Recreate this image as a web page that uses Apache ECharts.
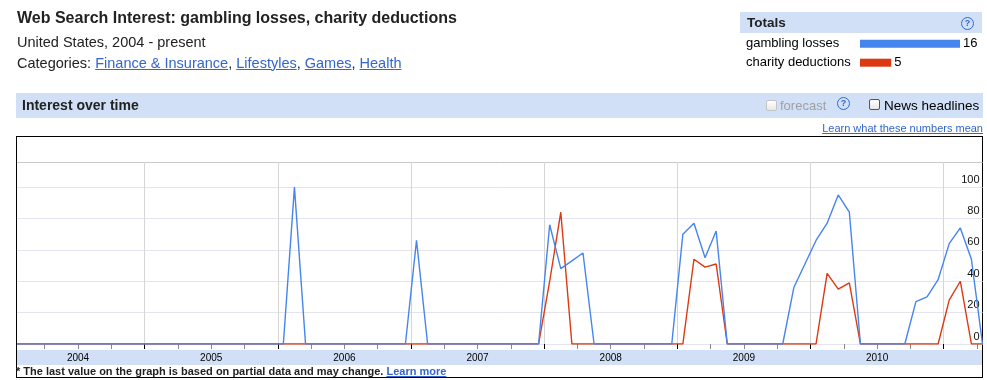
<!DOCTYPE html>
<html><head><meta charset="utf-8">
<script src="https://cdn.jsdelivr.net/npm/echarts@6/dist/echarts.min.js"></script>
<style>
html,body{margin:0;padding:0;background:#fff;width:987px;height:380px;overflow:hidden;font-family:"Liberation Sans",Arial,sans-serif;color:#222;}
.abs{position:absolute;white-space:nowrap;}
.t{position:absolute;white-space:nowrap;z-index:2;}
a{color:#3366cc;text-decoration:underline;}
#chart{position:absolute;left:0;top:0;width:987px;height:380px;z-index:1;}
.help{position:absolute;z-index:2;width:11px;height:11px;border:1px solid #3366cc;border-radius:50%;color:#3366cc;font-size:9px;font-weight:bold;line-height:11px;text-align:center;}
.cb{position:absolute;z-index:2;border-radius:2px;background:linear-gradient(#fff,#e8e8e8);}
</style></head><body>
<div class="abs" style="left:740px;top:12px;width:242px;height:21px;background:#d1e0f6"></div>
<div class="abs" style="left:16px;top:93px;width:967px;height:25px;background:#d1e0f6"></div>
<div class="abs" style="left:16px;top:350px;width:966px;height:15px;background:#d1e0f6"></div>
<div class="abs" style="left:16px;top:136px;width:965px;height:240px;border:1px solid #000"></div>

<div class="t" style="left:17px;top:9.5px;font-size:16px;line-height:16px;font-weight:bold;">Web Search Interest: gambling losses, charity deductions</div>
<div class="t" style="left:17px;top:34.7px;font-size:14.5px;line-height:14.5px;">United States, 2004 - present</div>
<div class="t" style="left:17px;top:55.7px;font-size:14.5px;line-height:14.5px;">Categories: <a>Finance &amp; Insurance</a>, <a>Lifestyles</a>, <a>Games</a>, <a>Health</a></div>

<div class="t" style="left:747px;top:16.3px;font-size:13.5px;line-height:13.5px;font-weight:bold;">Totals</div>
<div class="help" style="left:961px;top:17px;">?</div>

<div class="t" style="left:22px;top:98.2px;font-size:14px;line-height:14px;font-weight:bold;">Interest over time</div>
<div class="cb" style="left:766px;top:100px;width:9px;height:9px;border:1px solid #c4c4c4;"></div>
<div class="t" style="left:780px;top:98.5px;font-size:13px;line-height:13px;color:#a0a0a0;">forecast</div>
<div class="help" style="left:837px;top:97px;">?</div>
<div class="cb" style="left:869px;top:99px;width:9px;height:9px;border:1px solid #555;"></div>
<div class="t" style="left:884px;top:98.5px;font-size:13.5px;line-height:13.5px;color:#000;">News headlines</div>
<div class="t" style="right:4px;top:122.7px;font-size:11px;line-height:11px;"><a>Learn what these numbers mean</a></div>

<div class="t" style="left:16px;top:365.7px;font-size:11px;line-height:11px;font-weight:bold;color:#222;">* The last value on the graph is based on partial data and may change. <a>Learn more</a></div>

<div id="chart"></div>
<script>
// Monthly values, Jan 2004 .. Apr 2011
const years = ['2004', '2005', '2006', '2007', '2008', '2009', '2010'];
const gamblingLosses = [
  0,0,0,0,0,0,0,0,0,0,
  0,0,0,0,0,0,0,0,0,0,
  0,0,0,0,0,100,0,0,0,0,
  0,0,0,0,0,0,66,0,0,0,
  0,0,0,0,0,0,0,0,76,48,
  53,58,0,0,0,0,0,0,0,0,
  70,77,55,72,0,0,0,0,0,0,
  36,51,66,77,95,84,0,0,0,0,
  0,27,30,41,64,74,54,0
];
const charityDeductions = [
  0,0,0,0,0,0,0,0,0,0,
  0,0,0,0,0,0,0,0,0,0,
  0,0,0,0,0,0,0,0,0,0,
  0,0,0,0,0,0,0,0,0,0,
  0,0,0,0,0,0,0,0,40,84,
  0,0,0,0,0,0,0,0,0,0,
  0,54,49,51,0,0,0,0,0,0,
  0,0,0,45,35,39,0,0,0,0,
  0,0,0,0,28,40,0,0
];
const totalsNames = ['gambling losses', 'charity deductions'];
const totalsValues = [16, 5];
const yTickLabels = [0, 20, 40, 60, 80, 100];

const FONT = '"Liberation Sans", Arial, sans-serif';
const BLUE = '#4684ee', RED = '#dc3912';
const nMonths = gamblingLosses.length;
// x coordinate = month index (mid-month); boundaries fall on half indices
const yearBounds = years.slice(1).map((y, i) => (i + 1) * 12 - 0.5).concat([years.length * 12 - 0.5]);
const quarterBounds = [];
for (let m = 3; m < nMonths; m += 3) if (m % 12 !== 0) quarterBounds.push(m - 0.5);
const yearLabelPos = years.map((y, i) => i * 12 + 5.5);

const chart = echarts.init(document.getElementById('chart'), null, {renderer: 'canvas'});
const splitColors = yTickLabels.map(() => '#e4e4f0').concat(['#c8c8c8']);
chart.setOption({
  animation: false,
  backgroundColor: 'transparent',
  textStyle: {fontFamily: FONT},
  grid: [
    {left: 17, right: 4.5, top: 162, bottom: 36},
    {left: 860, top: 34.2, width: 100, height: 38}
  ],
  xAxis: [
    {type: 'value', gridIndex: 0, min: 0, max: nMonths - 1, position: 'bottom',
     axisLine: {show: false},
     axisTick: {show: true, customValues: quarterBounds, length: 5, lineStyle: {color: '#888'}},
     axisLabel: {show: false}, splitLine: {show: false}},
    {type: 'value', gridIndex: 0, min: 0, max: nMonths - 1, position: 'bottom',
     axisLine: {show: false},
     axisTick: {show: true, customValues: yearBounds, length: 5, lineStyle: {color: '#000'}},
     axisLabel: {show: true, customValues: yearLabelPos, margin: 9, fontSize: 10, color: '#000', fontFamily: FONT,
       formatter: v => years[Math.round((v - 5.5) / 12)]},
     splitLine: {show: true, lineStyle: {color: '#d6d6d6', width: 1}}},
    {type: 'value', gridIndex: 1, min: 0, max: 16, show: false}
  ],
  yAxis: [
    {type: 'value', gridIndex: 0, position: 'right', min: 0, max: 116, interval: 20,
     axisLine: {show: false}, axisTick: {show: false},
     axisLabel: {inside: true, margin: 3, fontSize: 11, color: '#111', fontFamily: FONT,
       verticalAlign: 'bottom', padding: [0, 0, 2, 0],
       formatter: v => (yTickLabels.indexOf(v) >= 0 ? String(v) : '')},
     splitLine: {show: true, lineStyle: {color: splitColors, width: 1}}},
    {type: 'category', gridIndex: 1, data: totalsNames, inverse: true,
     axisLine: {show: false}, axisTick: {show: false},
     axisLabel: {align: 'left', margin: 114, fontSize: 13, color: '#000', fontFamily: FONT}}
  ],
  series: [
    {type: 'line', name: 'charity deductions', xAxisIndex: 0, yAxisIndex: 0,
     data: charityDeductions.map((v, i) => [i, v]), showSymbol: false, symbol: 'none',
     lineStyle: {color: RED, width: 1.4}, itemStyle: {color: RED}, z: 3},
    {type: 'line', name: 'gambling losses', xAxisIndex: 0, yAxisIndex: 0,
     data: gamblingLosses.map((v, i) => [i, v]), showSymbol: false, symbol: 'none',
     lineStyle: {color: BLUE, width: 1.4}, itemStyle: {color: BLUE}, z: 4},
    {type: 'bar', xAxisIndex: 2, yAxisIndex: 1, barWidth: 8,
     data: totalsValues.map((v, i) => ({value: v, itemStyle: {color: i === 0 ? BLUE : RED}})),
     label: {show: true, position: 'right', distance: 3, fontSize: 13, color: '#000', fontFamily: FONT}}
  ]
});
</script>
</body></html>
